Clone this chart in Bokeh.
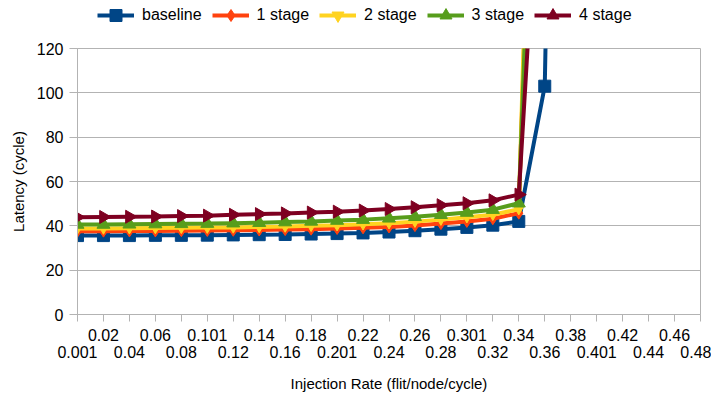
import math
from bokeh.plotting import figure
from bokeh.layouts import column
from bokeh.models import FixedTicker, LinearAxis, Legend, LegendItem, Range1d, Title
from bokeh.embed import file_html
from bokeh.resources import INLINE

NaN = float("nan")

rates = ["0.001", "0.02", "0.04", "0.06", "0.08", "0.101", "0.12", "0.14", "0.16",
         "0.18", "0.201", "0.22", "0.24", "0.26", "0.28", "0.301", "0.32", "0.34",
         "0.36", "0.38", "0.401", "0.42", "0.44", "0.46", "0.48"]

baseline = [35.6, 35.6, 35.6, 35.7, 35.7, 35.8, 35.9, 36.0, 36.1, 36.3, 36.5, 36.8,
            37.2, 37.8, 38.5, 39.3, 40.3, 42.0, 103.0, 700.0] + [NaN] * 5
stage1 = [37.6, 37.6, 37.7, 37.7, 37.8, 37.9, 38.0, 38.1, 38.3, 38.5, 38.8, 39.1,
          39.5, 40.1, 41.0, 42.0, 43.2, 45.7, 420.0] + [NaN] * 6
stage2 = [38.8, 38.8, 38.9, 39.0, 39.1, 39.2, 39.3, 39.5, 39.7, 40.0, 40.3, 40.7,
          41.2, 41.9, 42.8, 43.9, 45.0, 47.5, 450.0] + [NaN] * 6
stage3 = [40.6, 40.6, 40.7, 40.8, 40.9, 41.0, 41.2, 41.4, 41.7, 42.0, 42.4, 42.8,
          43.4, 44.1, 45.0, 46.0, 47.3, 50.2, 370.0] + [NaN] * 6
stage4 = [43.9, 44.0, 44.1, 44.2, 44.4, 44.6, 45.0, 45.3, 45.6, 46.0, 46.4, 46.9,
          47.6, 48.4, 49.3, 50.2, 51.5, 54.1, 250.0] + [NaN] * 6

y_ticks = [0, 20, 40, 60, 80, 100, 120]

names = ["baseline", "1 stage", "2 stage", "3 stage", "4 stage"]
series = [baseline, stage1, stage2, stage3, stage4]
colors = ["#004586", "#ff420e", "#ffd320", "#579d1c", "#7e0021"]
markers = ["square", "diamond", "inverted_triangle", "triangle", "triangle"]
sizes = [12, 12, 10, 13, 13]
angles = [0, 0, 0, 0, -math.pi / 2]

xs = list(range(len(rates)))

GRID = "#b3b3b3"
FONT = "Liberation Sans"

# ---------------- main chart ----------------
p = figure(width=711, height=364, output_backend="svg", toolbar_location=None,
           x_range=Range1d(0, len(rates) - 1), y_range=Range1d(0, 120),
           min_border_left=77, min_border_right=11, min_border_top=18,
           min_border_bottom=10, x_axis_location=None)

p.outline_line_color = GRID
p.xgrid.visible = False
p.ygrid.grid_line_color = GRID
p.ygrid.ticker = FixedTicker(ticks=y_ticks)

ya = p.yaxis[0]
ya.ticker = FixedTicker(ticks=y_ticks)
ya.axis_line_color = GRID
ya.major_tick_line_color = GRID
ya.major_tick_out = 8
ya.major_tick_in = 0
ya.minor_tick_line_color = None
ya.major_label_text_font = FONT
ya.major_label_text_font_size = "16px"
ya.major_label_text_color = "#000000"
ya.major_label_standoff = 6

ytitle = Title(text="Latency (cycle)", align="center", offset=-20, standoff=13,
               text_font=FONT, text_font_size="15px", text_font_style="normal",
               text_color="#000000")
p.add_layout(ytitle, "left")

odd = {i: (rates[i] if i % 2 == 1 else "") for i in xs}
even = {i: (rates[i] if i % 2 == 0 else "") for i in xs}

xa1 = LinearAxis(ticker=FixedTicker(ticks=xs), major_label_overrides=odd)
xa1.axis_line_color = GRID
xa1.major_tick_line_color = GRID
xa1.major_tick_out = 7
xa1.major_tick_in = 0
xa1.minor_tick_line_color = None
xa1.major_label_text_font = FONT
xa1.major_label_text_font_size = "16px"
xa1.major_label_text_color = "#000000"
xa1.major_label_standoff = 7
p.add_layout(xa1, "below")

xa2 = LinearAxis(ticker=FixedTicker(ticks=xs), major_label_overrides=even)
xa2.axis_line_color = None
xa2.major_tick_line_color = None
xa2.major_tick_out = 0
xa2.major_tick_in = 0
xa2.minor_tick_line_color = None
xa2.major_label_text_font = FONT
xa2.major_label_text_font_size = "16px"
xa2.major_label_text_color = "#000000"
xa2.major_label_standoff = 2
xa2.axis_label = "Injection Rate (flit/node/cycle)"
xa2.axis_label_text_font = FONT
xa2.axis_label_text_font_size = "15px"
xa2.axis_label_text_font_style = "normal"
xa2.axis_label_text_color = "#000000"
xa2.axis_label_standoff = 14
p.add_layout(xa2, "below")

for ys, c, m, s, a in zip(series, colors, markers, sizes, angles):
    p.line(xs, ys, line_color=c, line_width=4)
    p.scatter(xs, ys, marker=m, size=s, angle=a, fill_color=c, line_color=c)

# ---------------- legend strip ----------------
lg = figure(width=711, height=30, output_backend="svg", toolbar_location=None,
            x_range=Range1d(1000, 1001), y_range=Range1d(1000, 1001),
            min_border_left=0, min_border_right=0, min_border_top=0,
            min_border_bottom=0, x_axis_location=None, y_axis_location=None)
lg.outline_line_color = None
lg.xgrid.visible = False
lg.ygrid.visible = False

items = []
for name, ys, c, m, s, a in zip(names, series, colors, markers, sizes, angles):
    ln = lg.line(xs, ys, line_color=c, line_width=4)
    sc = lg.scatter(xs, ys, marker=m, size=s, angle=a, fill_color=c, line_color=c)
    items.append(LegendItem(label=name, renderers=[ln, sc]))

legend = Legend(items=items, orientation="horizontal", location=(20, 0),
                padding=0, margin=0, spacing=10, label_standoff=8,
                glyph_width=37, glyph_height=30, label_height=30,
                label_text_font=FONT, label_text_font_size="16px",
                label_text_color="#000000", border_line_color=None,
                background_fill_alpha=0)
lg.add_layout(legend, "center")

layout = column(lg, p, spacing=0)
open("out.html", "w").write(file_html(layout, INLINE))
